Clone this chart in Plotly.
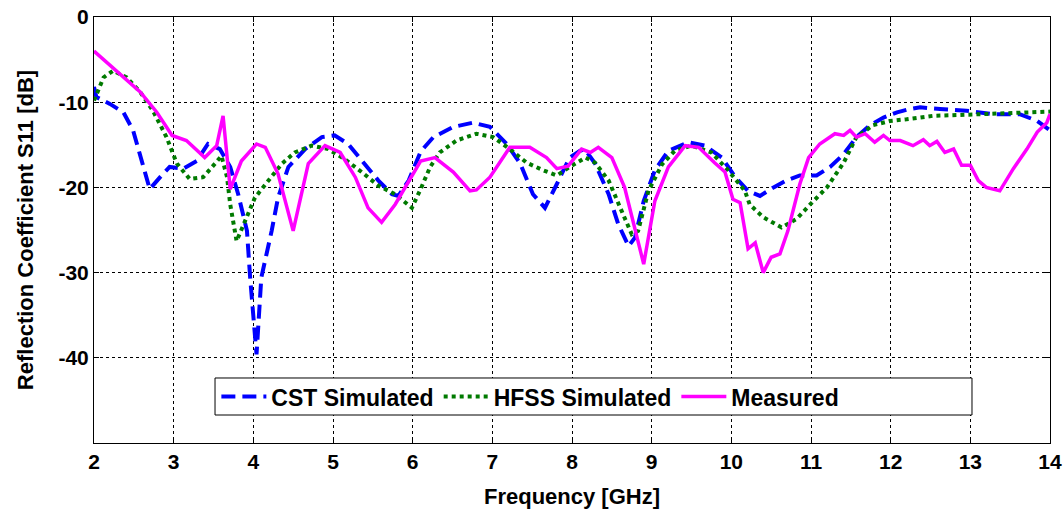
import plotly.graph_objects as go

cst_f = [2.0, 2.03, 2.2, 2.37, 2.49, 2.6, 2.7, 2.83, 2.95, 3.12, 3.29, 3.43, 3.58, 3.71, 3.81, 3.92,
         3.96, 4.04, 4.1, 4.23, 4.31, 4.44, 4.65, 4.86, 5.02, 5.19, 5.36, 5.57, 5.74, 5.82, 5.95,
         6.1, 6.26, 6.51, 6.76, 6.97, 7.18, 7.35, 7.51, 7.66, 7.81, 7.97, 8.1, 8.16, 8.29, 8.46,
         8.58, 8.71, 8.79, 8.9, 9.04, 9.21, 9.46, 9.67, 9.88, 10.05, 10.21, 10.36, 10.53, 10.69,
         10.86, 11.07, 11.24, 11.41, 11.57, 11.74, 11.91, 12.08, 12.24, 12.37, 12.62, 12.95,
         13.29, 13.62, 13.84, 14.0]
cst_s11 = [-8.2, -9.4, -10.2, -11.2, -13.3, -16.9, -20.2, -18.8, -17.6, -17.8, -16.9, -14.9, -15.5,
           -17.6, -20.8, -25.1, -30.6, -39.6, -30.6, -25.1, -21.2, -17.6, -15.5, -14.1, -13.9,
           -14.9, -16.9, -19.2, -20.8, -21.0, -19.2, -15.8, -14.1, -12.9, -12.4, -12.9, -14.9,
           -17.2, -20.8, -22.4, -19.6, -16.5, -15.7, -15.5, -17.2, -20.8, -24.3, -26.9, -25.9,
           -21.6, -18.0, -15.7, -14.7, -15.1, -16.5, -18.8, -20.4, -21.0, -20.0, -19.2, -18.6,
           -18.6, -17.6, -16.1, -14.1, -12.7, -11.8, -11.2, -10.8, -10.6, -10.8, -11.0, -11.4,
           -11.4, -12.2, -13.3]

hfss_f = [2.0, 2.12, 2.24, 2.41, 2.58, 2.74, 2.91, 3.04, 3.2, 3.37, 3.52, 3.6, 3.67, 3.71, 3.79,
          3.92, 4.02, 4.19, 4.36, 4.52, 4.73, 4.94, 5.15, 5.36, 5.57, 5.78, 5.99, 6.1, 6.22, 6.34,
          6.55, 6.8, 7.01, 7.22, 7.43, 7.64, 7.81, 7.97, 8.17, 8.29, 8.46, 8.62, 8.75, 8.83, 8.96,
          9.13, 9.29, 9.5, 9.75, 9.96, 10.17, 10.23, 10.4, 10.63, 10.82, 10.99, 11.2, 11.41,
          11.57, 11.78, 11.99, 12.2, 12.53, 13.16, 13.58, 14.0]
hfss_s11 = [-9.8, -7.1, -6.3, -7.1, -8.8, -11.0, -14.1, -17.2, -19.0, -18.8, -17.2, -16.3, -18.8,
            -22.0, -26.3, -23.5, -21.2, -19.2, -17.2, -15.9, -15.1, -15.5, -16.7, -18.2, -19.8,
            -20.8, -22.4, -20.2, -17.6, -15.9, -14.5, -13.7, -14.1, -15.5, -17.1, -18.0, -18.6,
            -17.6, -16.5, -17.1, -19.2, -22.7, -25.5, -25.1, -20.4, -17.3, -15.7, -15.1, -15.9,
            -18.0, -20.4, -22.0, -23.5, -24.7, -23.7, -22.0, -20.0, -17.1, -14.1, -12.7, -12.2,
            -12.0, -11.6, -11.4, -11.3, -11.1]

meas_f = [2.0, 2.2, 2.35, 2.58, 2.79, 2.98, 3.16, 3.39, 3.54, 3.62, 3.71, 3.85, 4.04, 4.15, 4.31,
          4.5, 4.69, 4.9, 5.09, 5.28, 5.44, 5.61, 5.78, 5.95, 6.1, 6.28, 6.51, 6.72, 6.8, 6.97,
          7.22, 7.47, 7.68, 7.81, 7.95, 8.12, 8.23, 8.33, 8.5, 8.66, 8.79, 8.9, 9.04, 9.21, 9.42,
          9.59, 9.79, 9.92, 10.02, 10.11, 10.21, 10.3, 10.4, 10.5, 10.61, 10.71, 10.86, 10.97,
          11.11, 11.3, 11.41, 11.49, 11.57, 11.68, 11.8, 11.91, 11.99, 12.12, 12.28, 12.41, 12.49,
          12.58, 12.68, 12.79, 12.89, 13.0, 13.1, 13.2, 13.37, 13.54, 13.71, 13.84, 13.96, 14.0]
meas_s11 = [-4.0, -5.7, -6.9, -8.8, -11.2, -13.9, -14.5, -16.5, -15.1, -11.6, -20.2, -16.9, -14.9,
            -15.3, -18.4, -25.1, -17.2, -15.1, -15.9, -18.8, -22.4, -24.1, -22.0, -19.2, -16.9,
            -16.5, -18.2, -20.4, -20.3, -18.8, -15.3, -15.3, -16.5, -17.8, -17.5, -15.5, -15.9,
            -15.3, -16.5, -20.0, -24.7, -29.0, -21.6, -17.6, -15.1, -15.3, -17.1, -18.2, -21.4,
            -21.8, -27.2, -26.5, -30.0, -28.2, -27.8, -25.1, -19.6, -16.5, -14.9, -13.7, -13.9,
            -13.3, -14.1, -13.7, -14.7, -13.9, -14.5, -14.5, -15.1, -14.4, -15.1, -14.6, -15.9,
            -15.5, -17.4, -17.4, -19.2, -20.0, -20.4, -17.8, -15.5, -13.5, -12.4, -11.4]

x_ticks = [2, 3, 4, 5, 6, 7, 8, 9, 10, 11, 12, 13, 14]
y_ticks = [0, -10, -20, -30, -40]

FONT = "Liberation Sans, Arial, sans-serif"

fig = go.Figure()
fig.add_trace(go.Scatter(x=cst_f, y=cst_s11, mode="lines", name="CST Simulated",
                         line=dict(color="#0000FF", width=4, dash="14px,7px")))
fig.add_trace(go.Scatter(x=hfss_f, y=hfss_s11, mode="lines", name="HFSS Simulated",
                         line=dict(color="#007A00", width=4, dash="dot")))
fig.add_trace(go.Scatter(x=meas_f, y=meas_s11, mode="lines", name="Measured",
                         line=dict(color="#FF00FF", width=3.5)))

# legend frame (MATLAB-style box)
fig.add_shape(type="rect", xref="paper", yref="paper",
              x0=0.1266, x1=0.9184, y0=0.0657, y1=0.1526,
              line=dict(color="black", width=1), fillcolor="white", layer="above")

fig.update_layout(
    width=1064, height=515,
    margin=dict(l=94, r=14, t=17, b=72),
    plot_bgcolor="white", paper_bgcolor="white",
    font=dict(family=FONT, size=20, color="black", weight="bold"),
    showlegend=True,
    legend=dict(orientation="h", x=0.128, y=0.109, xanchor="left", yanchor="middle",
                bgcolor="rgba(0,0,0,0)", borderwidth=0,
                font=dict(family=FONT, size=23, color="black", weight="bold"),
                itemwidth=45, tracegroupgap=0),
)
fig.update_xaxes(range=[2, 14], tickvals=x_ticks, ticktext=[str(v) for v in x_ticks],
                 showgrid=True, gridcolor="black", griddash="dot", gridwidth=1,
                 showline=True, linecolor="black", linewidth=1, mirror="ticks",
                 ticks="inside", ticklen=5, tickcolor="black", zeroline=False,
                 automargin=False,
                 tickfont=dict(family=FONT, size=21, weight="bold"),
                 title=dict(text="Frequency [GHz]", font=dict(family=FONT, size=22, weight="bold"),
                            standoff=16))
fig.update_yaxes(range=[-50, 0], tickvals=y_ticks, ticktext=[str(v) for v in y_ticks],
                 showgrid=True, gridcolor="black", griddash="dot", gridwidth=1,
                 showline=True, linecolor="black", linewidth=1, mirror="ticks",
                 ticks="inside", ticklen=5, tickcolor="black", zeroline=False,
                 automargin=False,
                 tickfont=dict(family=FONT, size=21, weight="bold"),
                 title=dict(text="Reflection Coefficient S11 [dB]",
                            font=dict(family=FONT, size=22, weight="bold"), standoff=18))

fig.write_html("out.html")
